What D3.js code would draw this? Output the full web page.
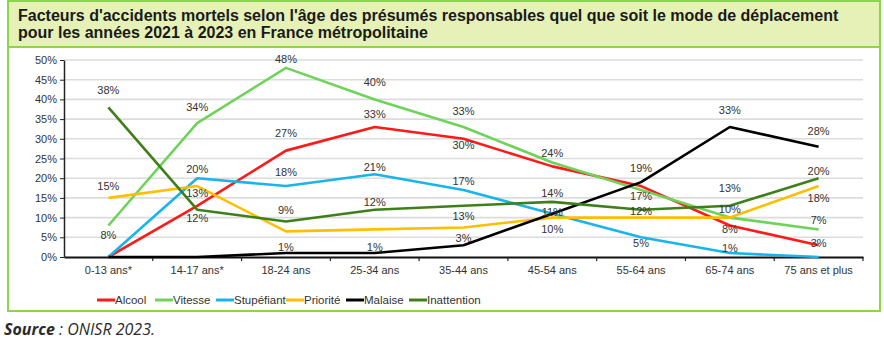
<!DOCTYPE html>
<html>
<head>
<meta charset="utf-8">
<script src="https://cdn.jsdelivr.net/npm/d3@7/dist/d3.min.js"></script>
<style>
  html, body { margin: 0; padding: 0; background: #fff; }
  #chart { width: 884px; height: 343px; }
</style>
</head>
<body>
<div id="chart"></div>
<script>
// Facteurs d'accidents mortels par tranche d'âge (ONISR 2023), valeurs en %.

const ageGroups = ["0-13 ans*", "14-17 ans*", "18-24 ans", "25-34 ans", "35-44 ans",
                   "45-54 ans", "55-64 ans", "65-74 ans", "75 ans et plus"];

const alcool      = [0, 13, 27, 33, 30, 23, 18, 8, 3];
const vitesse     = [8, 34, 48, 40, 33, 24, 17, 10, 7];
const stupefiant  = [0, 20, 18, 21, 17, 11, 5, 1, 0];
const priorite    = [15, 18, 6.5, 7, 7.5, 10, 10, 10, 18];
const malaise     = [0, 0, 1, 1, 3, 11, 19, 33, 28];
const inattention = [38, 12, 9, 12, 13, 14, 12, 13, 20];

const seriesNames = ["Alcool", "Vitesse", "Stupéfiant", "Priorité", "Malaise", "Inattention"];
const yTicks = [0, 5, 10, 15, 20, 25, 30, 35, 40, 45, 50];

// which points carry a value label: [series, category index]
const pointLabels = [
  ["Inattention", 0], ["Priorité", 0], ["Vitesse", 0],
  ["Vitesse", 1], ["Stupéfiant", 1], ["Alcool", 1], ["Inattention", 1],
  ["Vitesse", 2], ["Alcool", 2], ["Stupéfiant", 2], ["Inattention", 2], ["Malaise", 2],
  ["Vitesse", 3], ["Alcool", 3], ["Stupéfiant", 3], ["Inattention", 3], ["Malaise", 3],
  ["Vitesse", 4], ["Alcool", 4], ["Stupéfiant", 4], ["Inattention", 4], ["Malaise", 4],
  ["Vitesse", 5], ["Inattention", 5], ["Stupéfiant", 5], ["Priorité", 5],
  ["Malaise", 6], ["Vitesse", 6], ["Inattention", 6], ["Stupéfiant", 6],
  ["Malaise", 7], ["Inattention", 7], ["Priorité", 7], ["Alcool", 7], ["Stupéfiant", 7],
  ["Malaise", 8], ["Inattention", 8], ["Priorité", 8], ["Vitesse", 8], ["Alcool", 8],
];
// vertical nudge of each label from its point, same order as above (px)
const labelNudge = [
  -17, -12, 10,
  -16, -9, -13, 8,
  -9, -17, -14, -11, -6,
  -17, -13, -7, -8, -6,
  -16, 6, -9, 10, -7,
  -9, -9, -2, 12,
  -14, 6, 1, 6,
  -17, -18, -8, 4, -5,
  -16, -7, 12, -9, -2,
];

const series = [
  { name: "Alcool",      values: alcool,      color: "#ff1a1a" },
  { name: "Vitesse",     values: vitesse,     color: "#6fd35a" },
  { name: "Stupéfiant",  values: stupefiant,  color: "#18b4ec" },
  { name: "Priorité",    values: priorite,    color: "#ffbf00" },
  { name: "Malaise",     values: malaise,     color: "#000000" },
  { name: "Inattention", values: inattention, color: "#3f7f1a" },
];

const W = 884, H = 343;
const frameGreen = "#8cd448";
const font = "'Liberation Sans', Arial, sans-serif";
const narrow = "'Liberation Sans Narrow', 'Liberation Sans', Arial, sans-serif";

const svg = d3.select("#chart").append("svg")
  .attr("width", W).attr("height", H)
  .style("display", "block");

// frame + title band
svg.append("rect")
  .attr("x", 8).attr("y", 1).attr("width", 872).attr("height", 46)
  .attr("fill", "#e5f1b6");
svg.append("rect")
  .attr("x", 8).attr("y", 1).attr("width", 872).attr("height", 310)
  .attr("fill", "none").attr("stroke", frameGreen).attr("stroke-width", 2);
svg.append("line")
  .attr("x1", 8).attr("x2", 880).attr("y1", 47).attr("y2", 47)
  .attr("stroke", frameGreen).attr("stroke-width", 2);

const title = svg.append("text")
  .attr("font-family", font).attr("font-weight", "bold")
  .attr("font-size", "16px").attr("fill", "#1a1a1a");
title.append("tspan").attr("x", 18).attr("y", 21)
  .text("Facteurs d'accidents mortels selon l'âge des présumés responsables quel que soit le mode de déplacement");
title.append("tspan").attr("x", 18).attr("y", 38)
  .text("pour les années 2021 à 2023 en France métropolitaine");

// plot
const plot = { left: 64, right: 863, top: 60, bottom: 257 };

const x = d3.scaleBand().domain(ageGroups).range([plot.left, plot.right]);
const y = d3.scaleLinear().domain([0, 50]).range([plot.bottom, plot.top]);
const cx = i => x(ageGroups[i]) + x.bandwidth() / 2;

svg.append("g")
  .selectAll("line").data(yTicks.slice(1)).join("line")
  .attr("x1", plot.left).attr("x2", plot.right)
  .attr("y1", d => y(d)).attr("y2", d => y(d))
  .attr("stroke", "#dcdcdc").attr("stroke-width", 1.6);

const yAxis = svg.append("g")
  .attr("transform", `translate(${plot.left},0)`)
  .call(d3.axisLeft(y).tickValues(yTicks).tickFormat(d => d + "%").tickSize(4).tickSizeOuter(0));
yAxis.select(".domain").attr("stroke", "#222").attr("stroke-width", 1.5);
yAxis.selectAll(".tick line").attr("stroke", "#222");
yAxis.selectAll(".tick text")
  .attr("font-family", font).attr("font-size", "11px").attr("fill", "#333");

// category axis: ticks sit on the band boundaries
const xAxis = svg.append("g")
  .attr("transform", `translate(0,${plot.bottom})`)
  .call(d3.axisBottom(x).tickSize(0).tickPadding(9));
xAxis.select(".domain").attr("stroke", "#111").attr("stroke-width", 2);
xAxis.selectAll(".tick text")
  .attr("font-family", font).attr("font-size", "11px").attr("fill", "#333");
svg.append("g")
  .selectAll("line").data(ageGroups).join("line")
  .attr("x1", d => x(d) + x.bandwidth())
  .attr("x2", d => x(d) + x.bandwidth())
  .attr("y1", plot.bottom).attr("y2", plot.bottom + 4)
  .attr("stroke", "#222").attr("stroke-width", 1.2);

const line = d3.line()
  .x((v, i) => cx(i))
  .y(v => y(v));

svg.append("g")
  .selectAll("path").data(series).join("path")
  .attr("d", s => line(s.values))
  .attr("fill", "none")
  .attr("stroke", s => s.color)
  .attr("stroke-width", 2.6)
  .attr("stroke-linejoin", "round");

// value labels
const valueOf = d => series.find(s => s.name === d[0]).values[d[1]];
svg.append("g")
  .selectAll("text").data(pointLabels).join("text")
  .attr("x", d => cx(d[1]))
  .attr("y", (d, i) => y(valueOf(d)) + labelNudge[i])
  .attr("dy", "0.35em")
  .attr("text-anchor", "middle")
  .attr("font-family", font).attr("font-size", "11px").attr("fill", "#333")
  .text(d => Math.round(valueOf(d)) + "%");

// legend
const legendX = [97, 155, 216, 286, 346, 409];
const legend = svg.append("g")
  .selectAll("g").data(seriesNames).join("g")
  .attr("transform", (d, i) => `translate(${legendX[i]},300)`);
legend.append("line")
  .attr("x1", 0).attr("x2", 18).attr("y1", 0).attr("y2", 0)
  .attr("stroke", (d, i) => series[i].color).attr("stroke-width", 3);
legend.append("text")
  .attr("x", 18).attr("dy", "0.35em")
  .attr("font-family", narrow).attr("font-size", "11.5px").attr("fill", "#333")
  .text(d => d);

// source
const source = svg.append("text")
  .attr("x", 4).attr("y", 335)
  .attr("font-family", "'Open Sans', sans-serif").attr("font-style", "italic")
  .attr("font-size", "16px").attr("fill", "#2b2b2b");
source.append("tspan").attr("font-weight", "bold").text("Source");
source.append("tspan").text(" : ONISR 2023.");
</script>
</body>
</html>
